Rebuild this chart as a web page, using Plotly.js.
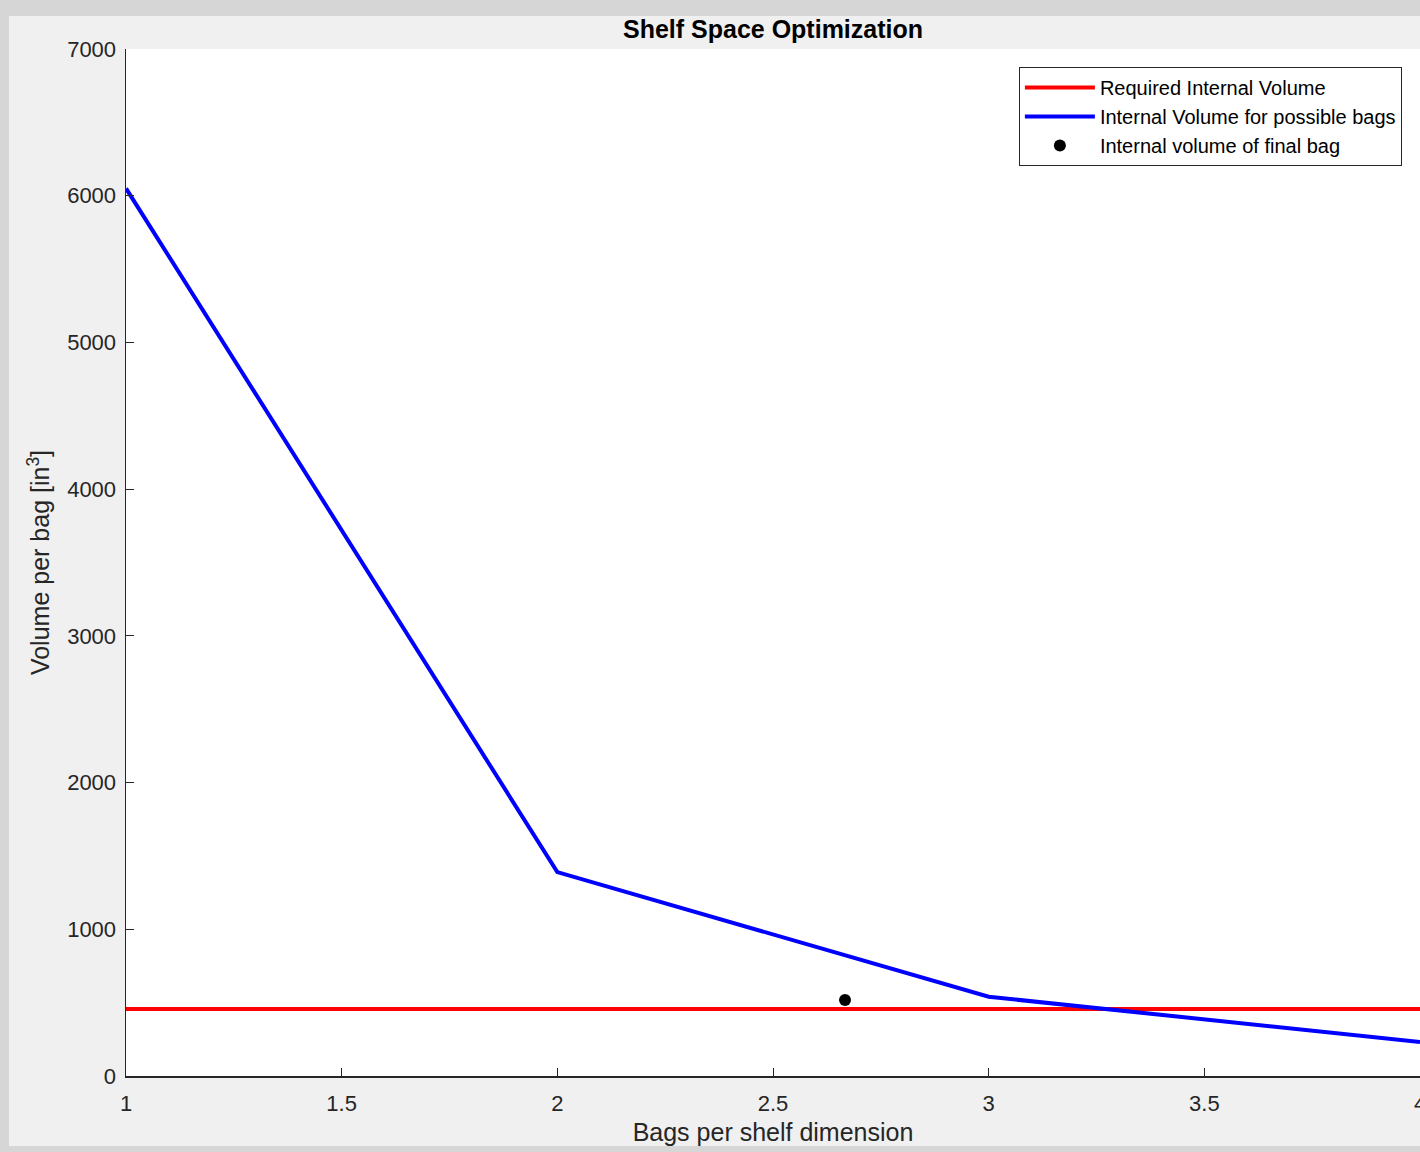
<!DOCTYPE html>
<html>
<head>
<meta charset="utf-8">
<script src="https://cdn.plot.ly/plotly-3.0.1.min.js"></script>
<style>
  html, body { margin: 0; padding: 0; width: 1420px; height: 1152px; background: #d6d6d6; overflow: hidden; }
  #fig { position: absolute; left: 9px; top: 16px; width: 1441px; height: 1130px; background: #f0f0f0; }
</style>
</head>
<body>
<div id="fig"></div>
<script>
const bagsPerDim = [1, 2, 3, 4];
const internalVolume = [6050, 1390, 540, 232];
const requiredVolume = 457;
const finalBagX = [2.667];
const finalBagY = [518];
const xTicks = [1, 1.5, 2, 2.5, 3, 3.5, 4];
const yTicks = [0, 1000, 2000, 3000, 4000, 5000, 6000, 7000];

const font = "Liberation Sans, Arial, sans-serif";

const traces = [
  {
    x: [bagsPerDim[0], bagsPerDim[bagsPerDim.length - 1]],
    y: [requiredVolume, requiredVolume],
    mode: 'lines', name: 'Required Internal Volume',
    line: { color: '#ff0000', width: 4 }
  },
  {
    x: bagsPerDim, y: internalVolume,
    mode: 'lines', name: 'Internal Volume for possible bags',
    line: { color: '#0000ff', width: 4 }
  },
  {
    x: finalBagX, y: finalBagY,
    mode: 'markers', name: 'Internal volume of final bag',
    marker: { color: '#000000', size: 12 }
  }
];

const layout = {
  width: 1441, height: 1130,
  paper_bgcolor: '#f0f0f0',
  plot_bgcolor: '#ffffff',
  margin: { l: 117, t: 33, r: 30, b: 70 },
  font: { family: font, size: 22, color: '#262626' },
  title: {
    text: '<b>Shelf Space Optimization</b>',
    font: { family: font, size: 25, color: '#000000' },
    x: 0.5, xanchor: 'center', xref: 'paper', y: 0.988, yanchor: 'middle'
  },
  showlegend: true,
  legend: {
    x: 0.986, xanchor: 'right', y: 0.9825, yanchor: 'top',
    bgcolor: '#ffffff', bordercolor: '#262626', borderwidth: 1,
    font: { family: font, size: 20, color: '#000000' },
    itemwidth: 70, tracegroupgap: 0
  },
  xaxis: {
    range: [1, 4],
    tickvals: xTicks, ticktext: xTicks.map(String),
    ticks: 'inside', ticklen: 8, tickcolor: '#262626', tickwidth: 1,
    showline: true, linecolor: '#262626', linewidth: 1.5,
    showgrid: false, zeroline: false, mirror: false,
    ticklabelstandoff: 7, ticklabeloverflow: 'allow',
    title: { text: 'Bags per shelf dimension', font: { family: font, size: 25, color: '#262626' }, standoff: 8 }
  },
  yaxis: {
    range: [0, 7000],
    tickvals: yTicks, ticktext: yTicks.map(String),
    ticks: 'inside', ticklen: 8, tickcolor: '#262626', tickwidth: 1,
    showline: true, linecolor: '#262626', linewidth: 1.5,
    showgrid: false, zeroline: false, mirror: false,
    ticklabelstandoff: 4,
    title: { text: 'Volume per bag [in<sup>3</sup>]', font: { family: font, size: 25, color: '#262626' }, standoff: 10 }
  }
};

Plotly.newPlot('fig', traces, layout, { displayModeBar: false, staticPlot: true });
</script>
</body>
</html>
